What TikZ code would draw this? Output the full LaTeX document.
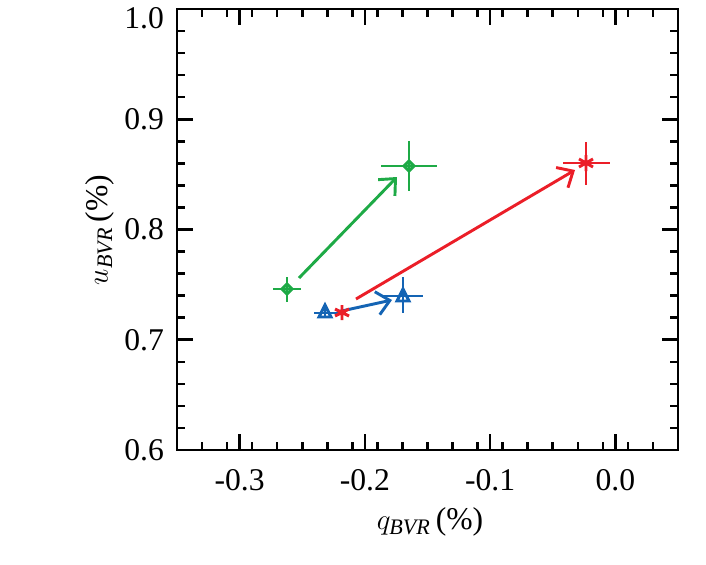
\documentclass[tikz,border=0pt]{standalone}
\usepackage{fontspec}
\setmainfont{Liberation Serif}
\usetikzlibrary{arrows.meta}
\definecolor{gr}{RGB}{30,170,70}
\definecolor{bl}{RGB}{20,100,180}
\definecolor{rd}{RGB}{235,30,40}
\begin{document}
\begin{tikzpicture}[x=0.03cm,y=-0.03cm,
  frame/.style={line width=2.2pt},
  dat/.style={line width=2.5pt},
  arr/.style={line width=2.5pt,-{Straight Barb[length=11pt,width=20pt,line width=2.5pt]}},
  lab/.style={font=\fontsize{27}{30}\selectfont}]
\useasboundingbox (0,0) rectangle (706,564);
% frame
\draw[frame] (177,9) rectangle (678,450);
\foreach \i in {0,...,20}{
  \pgfmathsetmacro{\xx}{177+\i*501/20}
  \draw[frame] (\xx,450) -- (\xx,442);
  \draw[frame] (\xx,9) -- (\xx,17);}
\foreach \v/\t in {1/-0.3,2/-0.2,3/-0.1,4/0.0}{
  \pgfmathsetmacro{\xx}{177+(\v*5-2.5)*501/20}
  \draw[frame] (\xx,450) -- (\xx,434);
  \draw[frame] (\xx,9) -- (\xx,25);
  \node[lab] (xl\v) at (\xx,480) {\t};}
\foreach \i in {0,...,20}{
  \pgfmathsetmacro{\yy}{450-\i*441/20}
  \draw[frame] (177,\yy) -- (185,\yy);
  \draw[frame] (678,\yy) -- (670,\yy);}
\foreach \v/\t in {0/0.6,1/0.7,2/0.8,3/0.9}{
  \pgfmathsetmacro{\yy}{450-\v*441/4}
  \draw[frame] (177,\yy) -- (193,\yy);
  \draw[frame] (678,\yy) -- (662,\yy);
  \node[lab,anchor=east] (yl\v) at (168,\yy) {\t};}
\draw[frame] (177,9) -- (193,9) (678,9) -- (662,9);
\node[lab,anchor=east] (yl4) at (168,18) {1.0};
\node[lab] (xt) at (430,522) {$q_{\mathit{BVR}}$\,(\%)};
\node[lab,rotate=90] (yt) at (100,230) {$u_{\mathit{BVR}}$\,(\%)};
% green
\draw[dat,gr] (273,289) -- (301,289) (287,277) -- (287,302);
\draw[dat,gr] (287,284) -- (292,289) -- (287,294) -- (282,289) -- cycle;
\draw[dat,gr] (381,166) -- (437,166) (409,141) -- (409,191);
\draw[dat,gr] (409,161) -- (414,166) -- (409,171) -- (404,166) -- cycle;
\draw[arr,gr] (299,278) -- (397,177);
% blue
\draw[dat,bl] (314,313) -- (337,313) (325,303) -- (325,318);
\draw[dat,bl] (325,305) -- (331,317) -- (319,317) -- cycle;
\draw[dat,bl] (383,296) -- (423,296) (403,277) -- (403,313);
\draw[dat,bl] (403,289) -- (409,301) -- (397,301) -- cycle;
\draw[arr,bl] (337,312) -- (392,300);
% red
\draw[dat,rd] (342,305) -- (342,320) (335,309) -- (349,316) (335,316) -- (349,309);
\draw[dat,rd] (563,163) -- (610,163) (586,142) -- (586,185);
\draw[dat,rd] (586,155) -- (586,171) (579,159) -- (593,167) (579,167) -- (593,159);
\draw[arr,rd] (356,299) -- (575,170);
\end{tikzpicture}
\end{document}
